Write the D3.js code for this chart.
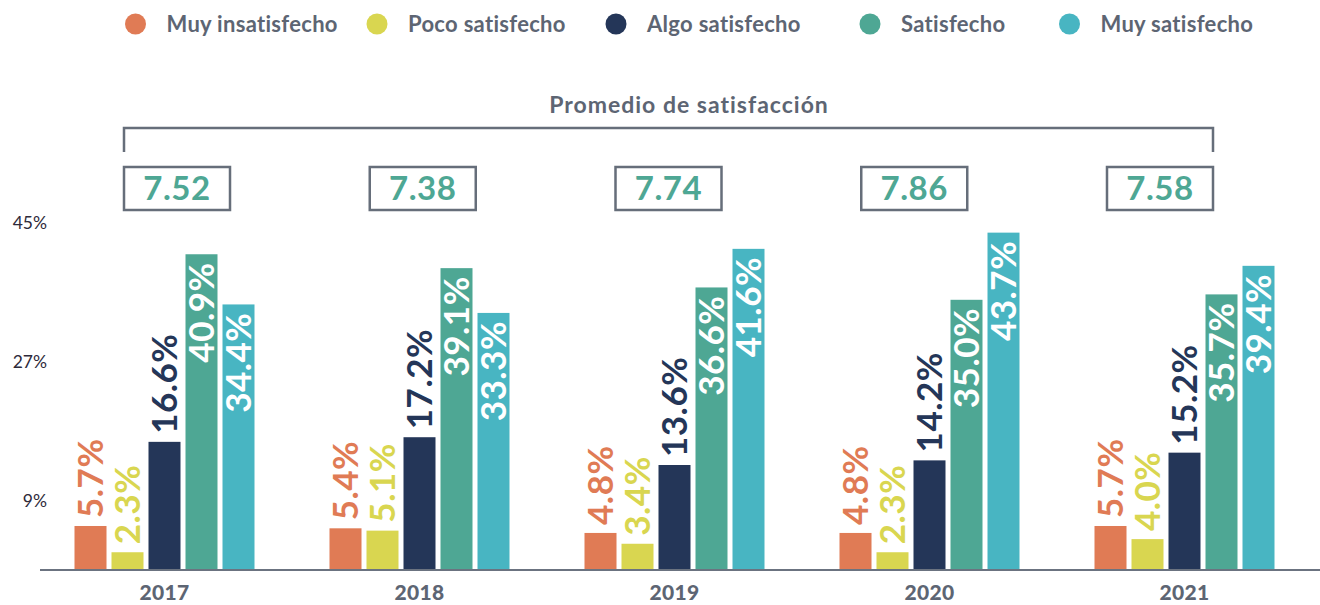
<!DOCTYPE html>
<html>
<head>
<meta charset="utf-8">
<script src="https://cdn.jsdelivr.net/npm/d3@7"></script>
<style>
  html, body { margin: 0; padding: 0; background: #ffffff; }
  svg { display: block; font-family: Lato, "Open Sans", sans-serif; }
</style>
</head>
<body>
<svg id="chart" width="1320" height="605"></svg>
<script>
// ---- Data ----
const years = ["2017", "2018", "2019", "2020", "2021"];
const seriesNames = ["Muy insatisfecho", "Poco satisfecho", "Algo satisfecho", "Satisfecho", "Muy satisfecho"];
const muyInsatisfecho = [5.7, 5.4, 4.8, 4.8, 5.7];
const pocoSatisfecho  = [2.3, 5.1, 3.4, 2.3, 4.0];
const algoSatisfecho  = [16.6, 17.2, 13.6, 14.2, 15.2];
const satisfecho      = [40.9, 39.1, 36.6, 35.0, 35.7];
const muySatisfecho   = [34.4, 33.3, 41.6, 43.7, 39.4];
const promedio = ["7.52", "7.38", "7.74", "7.86", "7.58"];
const yTicks = [9, 27, 45];
const avgTitle = "Promedio de satisfacción";

// ---- Styles ----
const colors = ["#E07B55", "#D9D650", "#243658", "#4EA794", "#48B5C2"];
const gray = "#5d6573";
const lineGray = "#666e7a";
const insideLabel = [false, false, false, true, true];

const seriesValues = [muyInsatisfecho, pocoSatisfecho, algoSatisfecho, satisfecho, muySatisfecho];

const svg = d3.select("#chart");

// Scales
const x0 = d3.scaleBand().domain(years).range([37, 1312]);
const x1 = d3.scaleBand().domain(seriesNames).range([0, 180]).paddingInner(5 / 37);
const groupOffset = (x0.bandwidth() - 180) / 2;
const y = d3.scaleLinear().domain([0, 45]).range([570, 222.6]);

// Y tick labels (no gridlines)
svg.append("g").selectAll("text").data(yTicks).join("text")
  .attr("x", 47).attr("y", d => y(d)).attr("dy", "0.36em")
  .attr("text-anchor", "end")
  .attr("font-size", 17.5).attr("font-weight", 400).attr("fill", "#2e2a3a")
  .text(d => d + "%");

// Bars
const flat = [];
years.forEach((yr, i) => {
  seriesNames.forEach((s, j) => {
    flat.push({ year: yr, series: s, j, value: seriesValues[j][i] });
  });
});

const bars = svg.append("g");
bars.selectAll("rect").data(flat).join("rect")
  .attr("x", d => x0(d.year) + groupOffset + x1(d.series))
  .attr("y", d => y(d.value))
  .attr("width", x1.bandwidth())
  .attr("height", d => y(0) - y(d.value))
  .attr("fill", d => colors[d.j]);

// Value labels (rotated)
bars.selectAll("text").data(flat).join("text")
  .attr("transform", d => {
    const cx = x0(d.year) + groupOffset + x1(d.series) + x1.bandwidth() / 2;
    const cy = insideLabel[d.j] ? y(d.value) + 8 : y(d.value) - 8;
    return `translate(${cx},${cy}) rotate(-90)`;
  })
  .attr("text-anchor", d => insideLabel[d.j] ? "end" : "start")
  .attr("dy", "0.36em")
  .attr("font-size", 35).attr("font-weight", 700)
  .attr("letter-spacing", 0.5)
  .attr("fill", d => insideLabel[d.j] ? "#ffffff" : colors[d.j])
  .text(d => d.value.toFixed(1) + "%");

// Axis baseline
svg.append("line")
  .attr("x1", 40).attr("x2", 1320).attr("y1", y(0)).attr("y2", y(0))
  .attr("stroke", "#6b7380").attr("stroke-width", 2);

// Year labels
svg.append("g").selectAll("text").data(years).join("text")
  .attr("x", d => x0(d) + x0.bandwidth() / 2)
  .attr("y", 600)
  .attr("text-anchor", "middle")
  .attr("font-size", 21).attr("font-weight", 900).attr("fill", gray)
  .attr("letter-spacing", 0.3)
  .text(d => d);

// Average boxes
const xb = d3.scalePoint().domain(years).range([177, 1160]);
const boxW = 106, boxH = 43, boxTop = 167;
const boxes = svg.append("g");
boxes.selectAll("rect").data(years).join("rect")
  .attr("x", d => xb(d) - boxW / 2).attr("y", boxTop)
  .attr("width", boxW).attr("height", boxH)
  .attr("fill", "none").attr("stroke", lineGray).attr("stroke-width", 2.5);
boxes.selectAll("text").data(years).join("text")
  .attr("x", d => xb(d)).attr("y", boxTop + boxH / 2).attr("dy", "0.36em")
  .attr("text-anchor", "middle")
  .attr("font-size", 33).attr("font-weight", 700).attr("fill", "#4EA794")
  .attr("letter-spacing", 0.5)
  .text((d, i) => promedio[i]);

// Bracket
const bl = xb(years[0]) - boxW / 2, br = xb(years[years.length - 1]) + boxW / 2;
svg.append("path")
  .attr("d", `M${bl},152 L${bl},128 L${br},128 L${br},152`)
  .attr("fill", "none").attr("stroke", lineGray).attr("stroke-width", 2.5);
svg.append("text")
  .attr("x", 689).attr("y", 113)
  .attr("text-anchor", "middle")
  .attr("font-size", 23).attr("font-weight", 700).attr("fill", gray)
  .attr("letter-spacing", 1)
  .text(avgTitle);

// Legend
const legendX = [135.5, 377, 616, 870, 1069.5];
const lg = svg.append("g").selectAll("g").data(seriesNames).join("g")
  .attr("transform", (d, i) => `translate(${legendX[i]},24)`);
lg.append("circle").attr("r", 10.5).attr("fill", (d, i) => colors[i]);
lg.append("text").attr("x", 31).attr("dy", "0.36em")
  .attr("font-size", 22).attr("font-weight", 700).attr("fill", gray)
  .attr("letter-spacing", 0.3)
  .text(d => d);
</script>
</body>
</html>
